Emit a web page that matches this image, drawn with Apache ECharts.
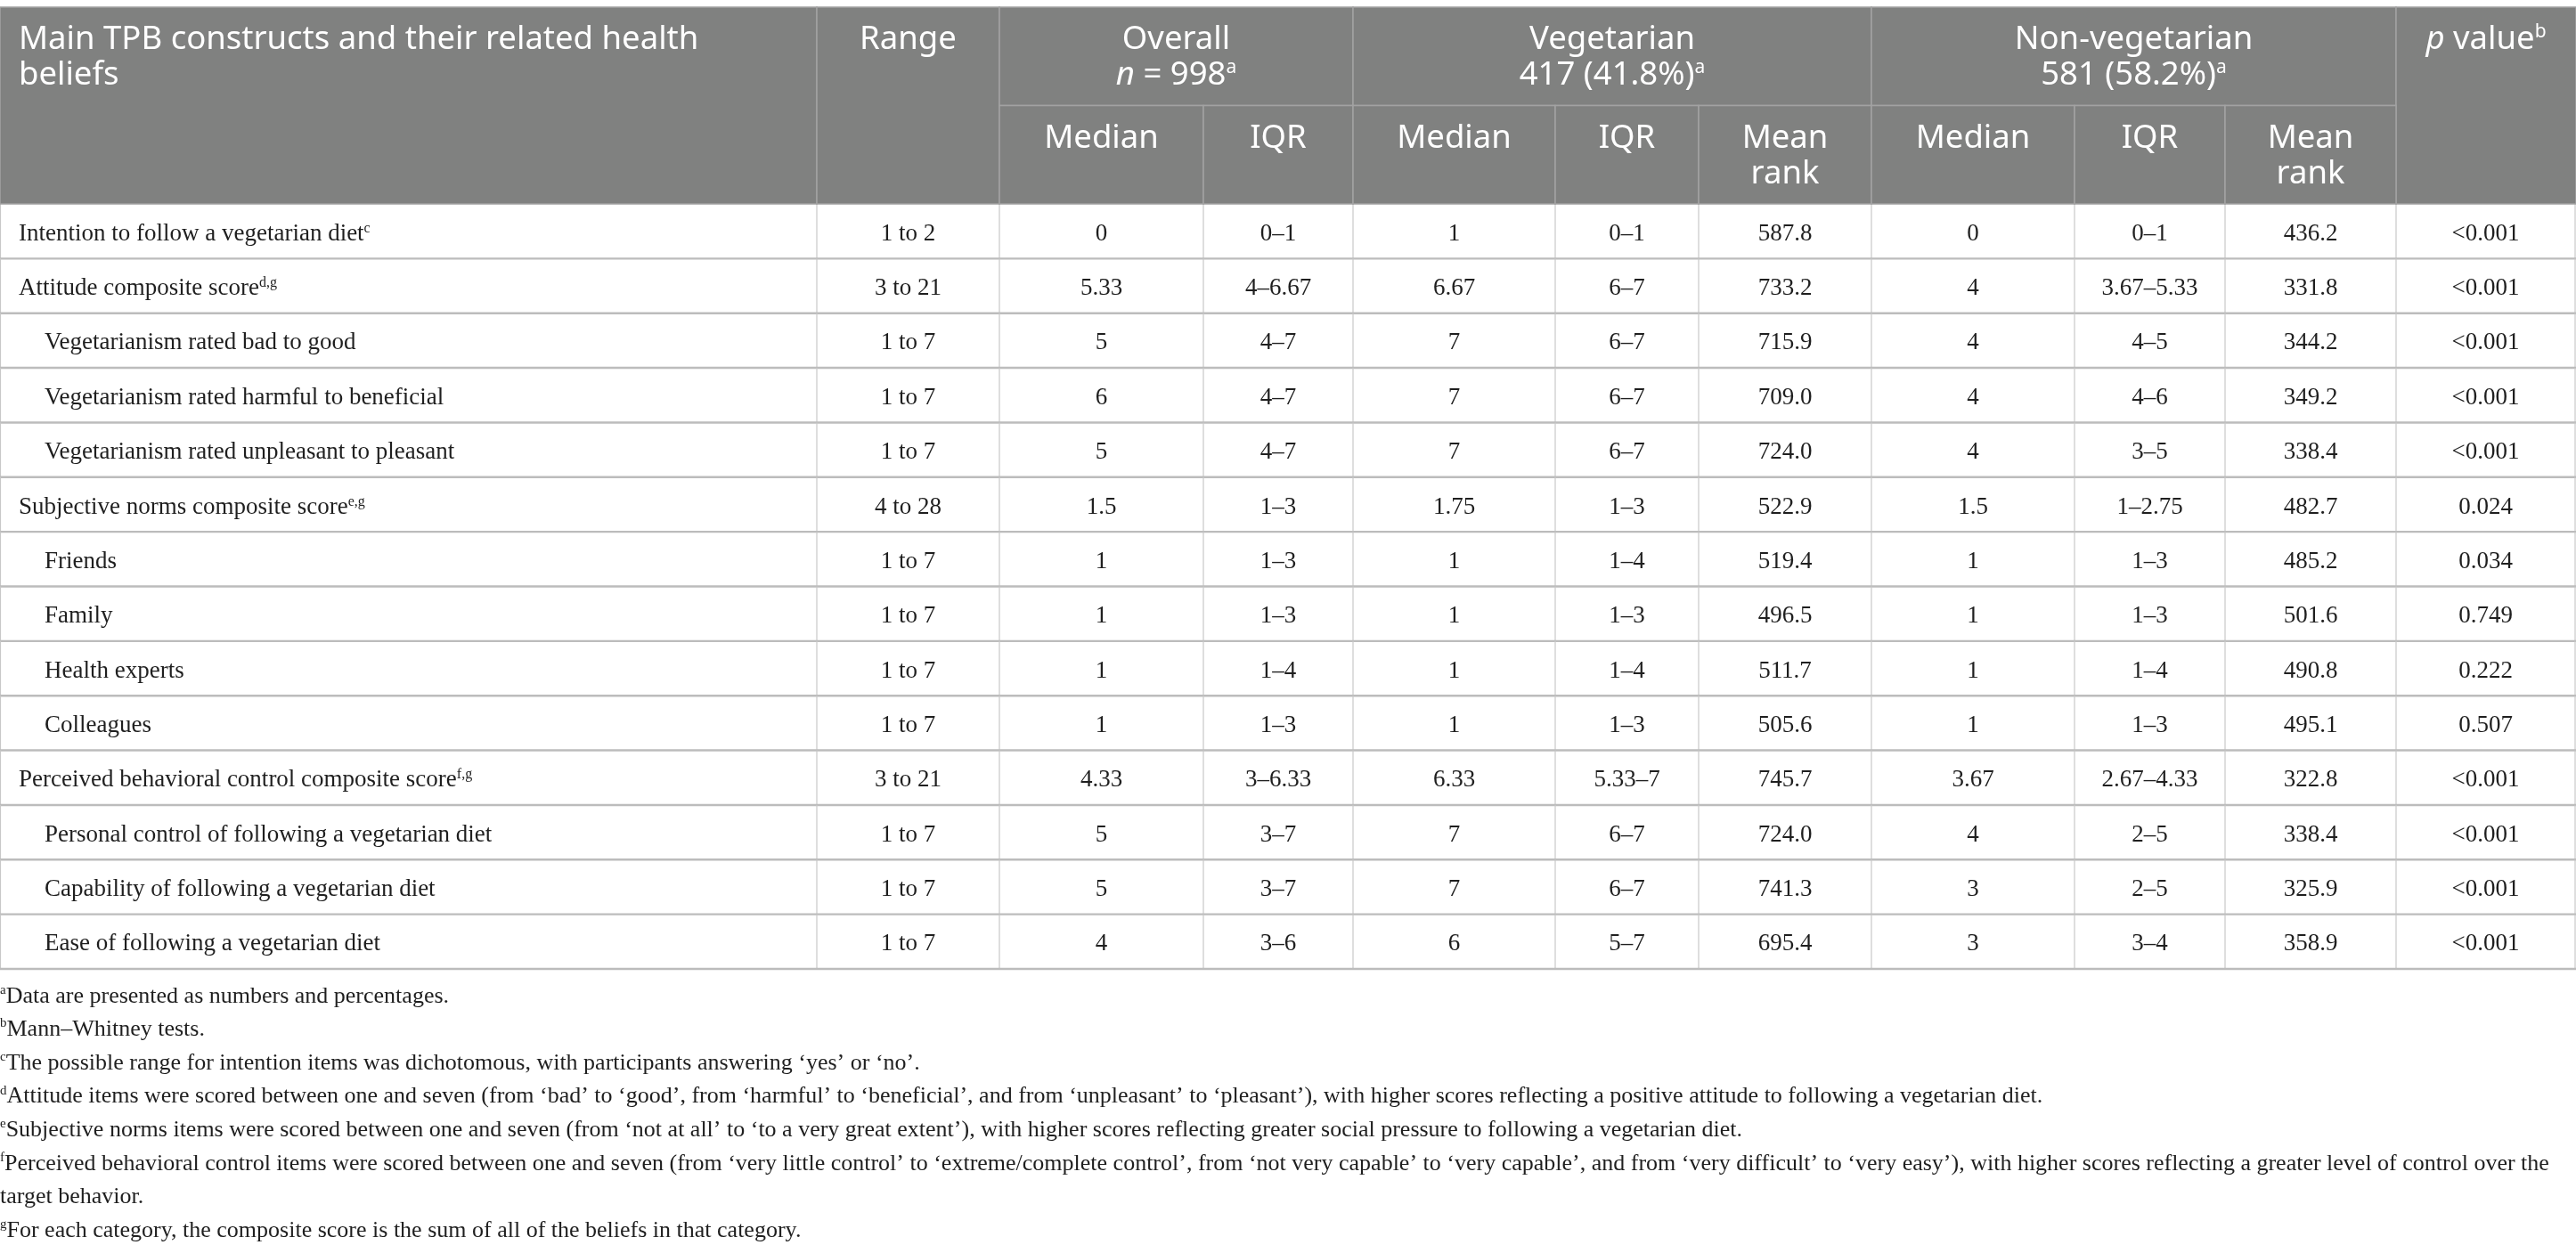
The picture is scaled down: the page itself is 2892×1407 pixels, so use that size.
<!DOCTYPE html>
<html><head><meta charset="utf-8">
<script src="https://cdn.jsdelivr.net/npm/echarts@6/dist/echarts.min.js"></script>
<style>html,body{margin:0;padding:0;background:#fff}#c{width:2892px;height:1407px}</style>
</head><body><div id="c"></div>
<script>
// ---------- DATA ----------
const rowLabels = ['Intention to follow a vegetarian diet', 'Attitude composite score', 'Vegetarianism rated bad to good', 'Vegetarianism rated harmful to beneficial', 'Vegetarianism rated unpleasant to pleasant', 'Subjective norms composite score', 'Friends', 'Family', 'Health experts', 'Colleagues', 'Perceived behavioral control composite score', 'Personal control of following a vegetarian diet', 'Capability of following a vegetarian diet', 'Ease of following a vegetarian diet'];
const rowNotes = ['c', 'd,g', '', '', '', 'e,g', '', '', '', '', 'f,g', '', '', ''];
const rowLevel = [0, 0, 1, 1, 1, 0, 1, 1, 1, 1, 0, 1, 1, 1];
const ranges = ['1 to 2', '3 to 21', '1 to 7', '1 to 7', '1 to 7', '4 to 28', '1 to 7', '1 to 7', '1 to 7', '1 to 7', '3 to 21', '1 to 7', '1 to 7', '1 to 7'];
const overallMedian = [0, 5.33, 5, 6, 5, 1.5, 1, 1, 1, 1, 4.33, 5, 5, 4];
const overallIQR = ['0–1', '4–6.67', '4–7', '4–7', '4–7', '1–3', '1–3', '1–3', '1–4', '1–3', '3–6.33', '3–7', '3–7', '3–6'];
const vegMedian = [1, 6.67, 7, 7, 7, 1.75, 1, 1, 1, 1, 6.33, 7, 7, 6];
const vegIQR = ['0–1', '6–7', '6–7', '6–7', '6–7', '1–3', '1–4', '1–3', '1–4', '1–3', '5.33–7', '6–7', '6–7', '5–7'];
const vegMeanRank = [587.8, 733.2, 715.9, 709.0, 724.0, 522.9, 519.4, 496.5, 511.7, 505.6, 745.7, 724.0, 741.3, 695.4];
const nonVegMedian = [0, 4, 4, 4, 4, 1.5, 1, 1, 1, 1, 3.67, 4, 3, 3];
const nonVegIQR = ['0–1', '3.67–5.33', '4–5', '4–6', '3–5', '1–2.75', '1–3', '1–3', '1–4', '1–3', '2.67–4.33', '2–5', '2–5', '3–4'];
const nonVegMeanRank = [436.2, 331.8, 344.2, 349.2, 338.4, 482.7, 485.2, 501.6, 490.8, 495.1, 322.8, 338.4, 325.9, 358.9];
const pValues = ['<0.001', '<0.001', '<0.001', '<0.001', '<0.001', '0.024', '0.034', '0.749', '0.222', '0.507', '<0.001', '<0.001', '<0.001', '<0.001'];

const firstHeader = 'Main TPB constructs and their related health\nbeliefs';
const rangeHeader = 'Range';
const groupHeaders = ['Overall\n{i|n} = 998{s|a}', 'Vegetarian\n417 (41.8%){s|a}', 'Non-vegetarian\n581 (58.2%){s|a}'];
const pHeader = '{i|p} value{s|b}';
const subHeaders = ['Median', 'IQR', 'Median', 'IQR', 'Mean\nrank', 'Median', 'IQR', 'Mean\nrank'];

const footnoteMarks = ['a', 'b', 'c', 'd', 'e', 'f', 'g'];
const footnoteTexts = [
  'Data are presented as numbers and percentages.',
  'Mann–Whitney tests.',
  'The possible range for intention items was dichotomous, with participants answering ‘yes’ or ‘no’.',
  'Attitude items were scored between one and seven (from ‘bad’ to ‘good’, from ‘harmful’ to ‘beneficial’, and from ‘unpleasant’ to ‘pleasant’), with higher scores reflecting a positive attitude to following a vegetarian diet.',
  'Subjective norms items were scored between one and seven (from ‘not at all’ to ‘to a very great extent’), with higher scores reflecting greater social pressure to following a vegetarian diet.',
  'Perceived behavioral control items were scored between one and seven (from ‘very little control’ to ‘extreme/complete control’, from ‘not very capable’ to ‘very capable’, and from ‘very difficult’ to ‘very easy’), with higher scores reflecting a greater level of control over the\ntarget behavior.',
  'For each category, the composite score is the sum of all of the beliefs in that category.'
];

// ---------- LAYOUT ----------
const W = 2892;
const colEdges = [0, 917, 1122, 1351, 1519, 1746, 1907, 2101, 2329, 2498, 2690, 2892];
const HEAD_FONT = '"Noto Sans", "Open Sans", sans-serif';
const BODY_FONT = '"Liberation Serif", "DejaVu Serif", serif';
const TEXT = '#1f1f1f';

function cellText(r, c) {
  switch (c) {
    case 0: return rowLabels[r] + (rowNotes[r] ? '{s|' + rowNotes[r] + '}' : '');
    case 1: return ranges[r];
    case 2: return String(overallMedian[r]);
    case 3: return overallIQR[r];
    case 4: return String(vegMedian[r]);
    case 5: return vegIQR[r];
    case 6: return vegMeanRank[r].toFixed(1);
    case 7: return String(nonVegMedian[r]);
    case 8: return nonVegIQR[r];
    case 9: return nonVegMeanRank[r].toFixed(1);
    case 10: return pValues[r];
  }
}

const bodyData = [];
rowLabels.forEach((_, r) => { for (let c = 0; c < colEdges.length - 1; c++) bodyData.push([c, r]); });

// header cells: [c0, c1, r0, r1, labelIndex]
const headerLabels = [firstHeader, rangeHeader].concat(groupHeaders, [pHeader], subHeaders);
const headerData = [
  [0, 1, 0, 2, 0], [1, 2, 0, 2, 1],
  [2, 4, 0, 1, 2], [4, 7, 0, 1, 3], [7, 10, 0, 1, 4],
  [10, 11, 0, 2, 5]
];
subHeaders.forEach((_, i) => headerData.push([2 + i, 3 + i, 1, 2, 6 + i]));

const bodyRich = {
  s: { fontSize: 16, lineHeight: 16, padding: [0, 0, 12, 0], verticalAlign: 'middle', fontFamily: BODY_FONT, color: TEXT }
};
const headRich = {
  s: { fontSize: 21, lineHeight: 21, padding: [0, 0, 17, 0], verticalAlign: 'middle', fontFamily: HEAD_FONT, color: '#fff' },
  i: { fontSize: 36.5, lineHeight: 40, fontStyle: 'italic', fontFamily: HEAD_FONT, color: '#fff', verticalAlign: 'middle' }
};

function renderBody(params, api) {
  const c = api.value(0), r = api.value(1);
  const a = api.coord([colEdges[c], r]);
  const b = api.coord([colEdges[c + 1], r]);
  const h = api.size([0, 1])[1];
  const yc = a[1], top = yc - h / 2, bottom = yc + h / 2;
  const x0 = a[0], x1 = Math.min(b[0], W - 1);
  const children = [];
  children.push({
    type: 'text',
    style: {
      text: cellText(r, c), rich: bodyRich,
      x: c === 0 ? x0 + (rowLevel[r] ? 50 : 21) : (x0 + x1) / 2,
      y: yc + 3,
      align: c === 0 ? 'left' : 'center', verticalAlign: 'middle',
      fontSize: 27, fontFamily: BODY_FONT, fill: TEXT
    }
  });
  children.push({ type: 'line', shape: { x1: x1, y1: top, x2: x1, y2: bottom }, style: { stroke: '#c8c8c8', lineWidth: 1.2 } });
  if (c === 0) children.push({ type: 'line', shape: { x1: 0.5, y1: top, x2: 0.5, y2: bottom }, style: { stroke: '#c8c8c8', lineWidth: 1.2 } });
  children.push({ type: 'line', shape: { x1: x0, y1: bottom, x2: b[0], y2: bottom }, style: { stroke: '#bcbcbc', lineWidth: 2.4 } });
  return { type: 'group', children };
}

function renderHead(params, api) {
  const c0 = api.value(0), c1 = api.value(1), r0 = api.value(2), r1 = api.value(3), li = api.value(4);
  const p0 = api.coord([colEdges[c0], r0]);
  const p1 = api.coord([colEdges[c1], r1]);
  const x0 = p0[0], x1 = Math.min(p1[0], W), y0 = p0[1], y1 = p1[1];
  return {
    type: 'group',
    children: [
      { type: 'rect', shape: { x: x0, y: y0, width: x1 - x0, height: y1 - y0 }, style: { fill: '#808180', stroke: '#a2a2a2', lineWidth: 1.5 } },
      {
        type: 'text',
        style: {
          text: headerLabels[li], rich: headRich,
          x: c0 === 0 ? x0 + 21 : (x0 + x1) / 2, y: y0 + 17,
          align: c0 === 0 ? 'left' : 'center', verticalAlign: 'top',
          fontSize: 36.5, lineHeight: 40, fontFamily: HEAD_FONT, fill: '#ffffff'
        }
      }
    ]
  };
}

const footRich = {
  s: { fontSize: 15, lineHeight: 15, padding: [0, 0, 14, 0], verticalAlign: 'middle', fontFamily: BODY_FONT, color: TEXT }
};
const footText = footnoteTexts.map((t, i) => '{s|' + footnoteMarks[i] + '}' + t).join('\n');

const chart = echarts.init(document.getElementById('c'), null, { renderer: 'canvas' });
chart.setOption({
  animation: false,
  backgroundColor: '#ffffff',
  grid: [
    { left: 0, right: 0, top: 229, height: 859 },
    { left: 0, right: 0, top: 8, height: 221 }
  ],
  xAxis: [
    { type: 'value', gridIndex: 0, min: 0, max: W, show: false },
    { type: 'value', gridIndex: 1, min: 0, max: W, show: false }
  ],
  yAxis: [
    { type: 'category', gridIndex: 0, data: rowLabels.map((_, i) => i), inverse: true, show: false },
    { type: 'value', gridIndex: 1, min: 0, max: 2, inverse: true, show: false }
  ],
  series: [
    { type: 'custom', xAxisIndex: 0, yAxisIndex: 0, data: bodyData, encode: { x: 0, y: 1 }, renderItem: renderBody, silent: true },
    { type: 'custom', xAxisIndex: 1, yAxisIndex: 1, data: headerData, encode: { x: [0, 1], y: [2, 3] }, renderItem: renderHead, silent: true }
  ],
  graphic: [{
    type: 'text', left: 0, top: 1100, silent: true,
    style: {
      text: footText, rich: footRich,
      fontSize: 26, lineHeight: 37.6, fontFamily: BODY_FONT, fill: TEXT
    }
  }]
});
</script>
</body></html>
